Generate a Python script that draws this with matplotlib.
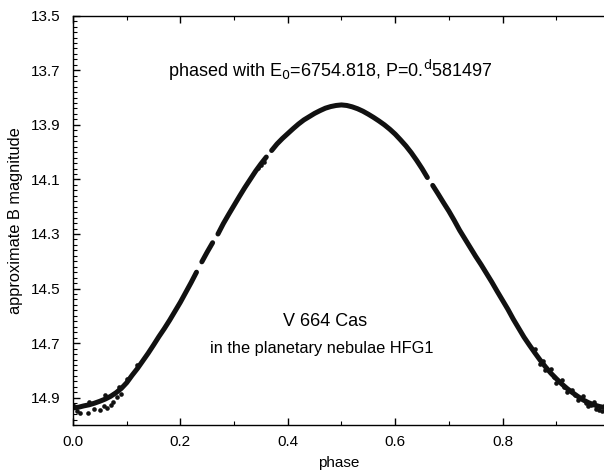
import numpy as np
import matplotlib
matplotlib.use("Agg")
import matplotlib.pyplot as plt
from matplotlib.ticker import MultipleLocator

plt.rcParams['font.family'] = ['Liberation Sans', 'DejaVu Sans']

# mean light curve (phase, approximate B magnitude); NaN marks gaps in coverage
phase = [0.00, 0.01, 0.02, 0.03, 0.04, 0.05, 0.06, 0.07, 0.08, 0.09,
         0.10, 0.11, 0.12, 0.13, 0.14, 0.15, 0.16, 0.17, 0.18, 0.19,
         0.20, 0.21, 0.22, 0.23, 0.232, 0.24, 0.25, 0.26, 0.265, 0.27, 0.28, 0.29,
         0.30, 0.31, 0.32, 0.33, 0.34, 0.35, 0.36, 0.367, 0.37, 0.38, 0.39,
         0.40, 0.41, 0.42, 0.43, 0.44, 0.45, 0.46, 0.47, 0.48, 0.49,
         0.50, 0.51, 0.52, 0.53, 0.54, 0.55, 0.56, 0.57, 0.58, 0.59,
         0.60, 0.61, 0.62, 0.63, 0.64, 0.65, 0.66, 0.665, 0.67, 0.68, 0.69,
         0.70, 0.71, 0.72, 0.73, 0.74, 0.75, 0.76, 0.77, 0.78, 0.79,
         0.80, 0.81, 0.82, 0.83, 0.84, 0.85, 0.86, 0.87, 0.88, 0.89,
         0.90, 0.91, 0.92, 0.93, 0.94, 0.95, 0.96, 0.97, 0.98, 0.99]
mag = [14.937, 14.935, 14.930, 14.926, 14.920, 14.913, 14.905, 14.895, 14.882, 14.866,
       14.845, 14.818, 14.793, 14.765, 14.737, 14.707, 14.676, 14.647, 14.616, 14.583,
       14.550, 14.514, 14.478, 14.440, np.nan, 14.402, 14.366, 14.332, np.nan, 14.300, 14.262, 14.228,
       14.195, 14.162, 14.130, 14.100, 14.070, 14.043, 14.018, np.nan, 13.994, 13.970, 13.950,
       13.932, 13.914, 13.897, 13.882, 13.870, 13.858, 13.848, 13.839, 13.833, 13.829,
       13.827, 13.829, 13.834, 13.841, 13.850, 13.861, 13.873, 13.886, 13.900, 13.916,
       13.934, 13.955, 13.977, 14.002, 14.030, 14.060, 14.093, np.nan, 14.122, 14.153, 14.185,
       14.216, 14.250, 14.286, 14.318, 14.350, 14.382, 14.412, 14.444, 14.476, 14.510,
       14.543, 14.576, 14.612, 14.645, 14.678, 14.707, 14.735, 14.762, 14.787, 14.810,
       14.830, 14.849, 14.866, 14.881, 14.895, 14.908, 14.918, 14.926, 14.932, 14.936]

# individual scattered observations (band width and outliers)
pts_phase = [0.007, 0.013, 0.028, 0.040, 0.050, 0.057, 0.063, 0.070, 0.075, 0.082, 0.090,
             0.000, 0.030, 0.060, 0.085, 0.100, 0.120,
             0.345, 0.350, 0.355,
             0.860, 0.870, 0.875, 0.880, 0.890, 0.895, 0.900, 0.910, 0.915, 0.920,
             0.930, 0.935, 0.940, 0.950, 0.955, 0.960, 0.965, 0.970, 0.975, 0.980,
             0.985, 0.990]
pts_mag = [14.948, 14.955, 14.956, 14.940, 14.944, 14.930, 14.937, 14.925, 14.915, 14.896, 14.885,
           14.925, 14.915, 14.890, 14.860, 14.830, 14.780,
           14.058, 14.046, 14.036,
           14.722, 14.775, 14.765, 14.800, 14.795, 14.825, 14.845, 14.835, 14.860, 14.880,
           14.870, 14.890, 14.910, 14.895, 14.920, 14.930, 14.925, 14.915, 14.940, 14.945,
           14.950, 14.925]

xticks = [0.0, 0.2, 0.4, 0.6, 0.8]
xticklabels = ["0.0", "0.2", "0.4", "0.6", "0.8"]
yticks = [13.5, 13.7, 13.9, 14.1, 14.3, 14.5, 14.7, 14.9]
yticklabels = ["13.5", "13.7", "13.9", "14.1", "14.3", "14.5", "14.7", "14.9"]

fig = plt.figure(figsize=(6.04, 4.71), dpi=100)
ax = fig.add_axes([73/604, 46/471, (604-73)/604, (425-15.7)/471])

ax.plot(phase, mag, color='#111111', lw=3.6, solid_capstyle='round', solid_joinstyle='round')
ax.scatter(pts_phase, pts_mag, s=11, color='#111111', linewidths=0)

ax.set_xlim(0, 0.989)
ax.set_ylim(15.0, 13.5)

ax.set_xticks(xticks)
ax.set_xticklabels(xticklabels)
ax.xaxis.set_minor_locator(MultipleLocator(0.1))
ax.set_yticks(yticks)
ax.set_yticklabels(yticklabels)
ax.yaxis.set_minor_locator(MultipleLocator(0.02))

ax.tick_params(axis='both', which='both', direction='in', top=True, right=False)
ax.tick_params(axis='x', which='major', length=5, width=1, labelsize=11, pad=7)
ax.tick_params(axis='y', which='major', length=5, width=1, labelsize=11, pad=9)
ax.tick_params(axis='both', which='minor', length=3, width=0.8)
ax.spines['right'].set_visible(False)
for s in ['left', 'bottom', 'top']:
    ax.spines[s].set_linewidth(1.0)

ax.set_xlabel('phase', fontsize=11, labelpad=5)
ax.set_ylabel('approximate B magnitude', fontsize=11.8, labelpad=6)

ax.text(0.479, 13.70, r'phased with E$_0$=6754.818, P=0.$^{\mathrm{d}}$581497',
        ha='center', va='center', fontsize=13)
ax.text(0.4686, 14.62, 'V 664 Cas', ha='center', va='center', fontsize=13)
ax.text(0.463, 14.718, 'in the planetary nebulae HFG1', ha='center', va='center', fontsize=11.8)

fig.savefig('out.png', dpi=100)
